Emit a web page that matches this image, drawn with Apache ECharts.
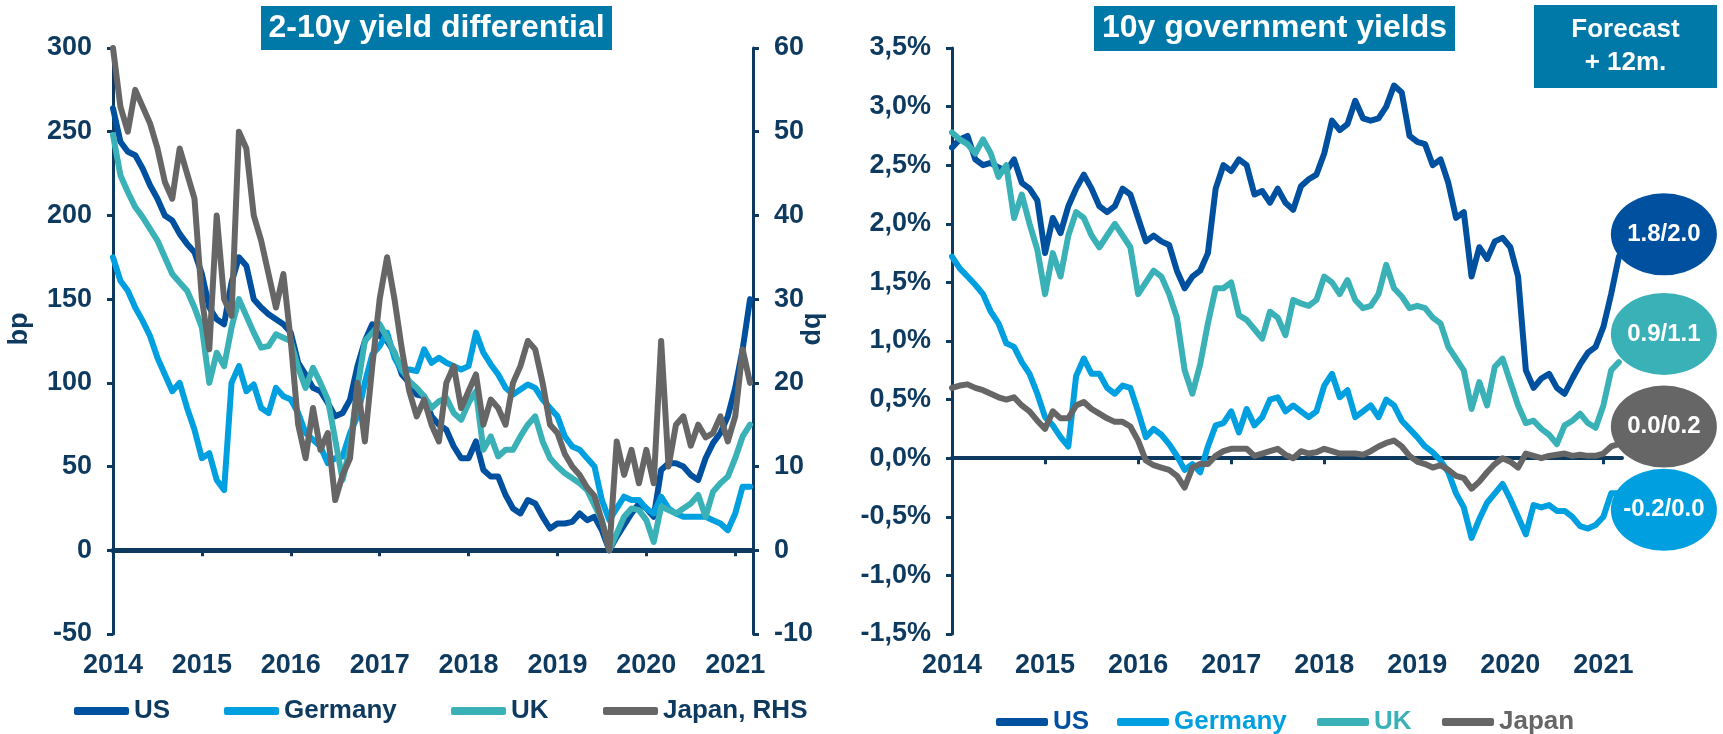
<!DOCTYPE html>
<html>
<head>
<meta charset="utf-8">
<script src="https://cdn.jsdelivr.net/npm/echarts@6/dist/echarts.min.js"></script>
<style>
  html, body { margin: 0; padding: 0; background: #fff; }
  #main { width: 1723px; height: 734px; }
</style>
</head>
<body>
<div id="main"></div>
<script>
// monthly observations, Jan 2014 .. Mar 2021
var startYear = 2014;
var years = [2014, 2015, 2016, 2017, 2018, 2019, 2020, 2021];

// 2-10y spread, bp (Japan on the right axis)
var spreadUS = [
  264, 244, 238, 236, 228, 218, 210, 200, 197, 189, 183, 178,
  165, 145, 138, 135, 160, 175, 170, 150, 145, 141, 138, 135,
  130, 112, 105, 97, 95, 88, 80, 82, 90, 110, 125, 135,
  128, 125, 118, 105, 100, 93, 92, 80, 75, 72, 62, 55,
  55, 65, 48, 44, 44, 33, 25, 22, 30, 28, 20, 13,
  16, 16, 17, 22, 18, 20, 12, 0, 8, 15, 22, 28,
  25, 20, 48, 52, 52, 50, 45, 42, 55, 64, 70, 80,
  97, 120, 150
];
var spreadDE = [
  175, 161, 155, 145, 137, 128, 115, 105, 95, 100, 85, 72,
  55, 58, 42, 36, 100, 110, 95, 99, 85, 82, 97, 92,
  90, 82, 70, 66, 62, 52, 55, 56, 70, 80, 100, 117,
  122, 130, 115, 107, 108, 107, 120, 112, 115, 112, 110, 108,
  110, 130, 118, 111, 105, 97, 93, 96, 99, 97, 90, 85,
  80, 68, 62, 60, 55, 50, 30, 18, 25, 32, 30, 30,
  25, 22, 32, 25, 22, 20, 20, 20, 20, 18, 16, 12,
  22, 38, 38
];
var spreadUK = [
  248, 224, 214, 205, 199, 192, 185, 175, 165, 160, 155, 145,
  133, 100, 118, 110, 133, 150, 140, 130, 121, 122, 129, 127,
  125, 109, 97, 109, 100, 90, 66, 42, 62, 97, 125, 130,
  135, 127, 118, 108, 101, 97, 92, 85, 89, 91, 82, 78,
  88, 95, 60, 68, 56, 60, 60, 68, 75, 80, 65, 55,
  50, 46, 43, 40, 36, 27, 18, 0, 10, 20, 25, 24,
  18, 5, 26, 24, 22, 25, 28, 33, 20, 35, 40, 44,
  55, 68, 75
];
var spreadJP = [
  60, 53, 50, 55, 53, 51, 48, 44, 42, 48, 45, 42,
  30, 24, 40, 30, 28, 50, 48, 40, 37, 33, 29, 33,
  25, 15, 11, 17, 12, 14, 6, 9, 11, 20, 13, 22,
  30, 35, 30, 24, 19, 16, 18, 15, 13, 20, 22, 17,
  19, 21, 15, 18, 17, 15, 20, 22, 25, 24, 20, 15,
  14, 11.5, 10, 9, 7.5, 6.5, 3.5, 0, 13, 9, 12, 8,
  12, 8, 25, 10, 15, 16, 12.5, 15, 13.5, 14, 16, 13,
  16, 24, 20
];

// 10y yields, %
var yieldUS = [
  2.65, 2.72, 2.75, 2.55, 2.50, 2.52, 2.48, 2.45, 2.55, 2.35, 2.30, 2.20,
  1.75, 2.05, 1.92, 2.15, 2.30, 2.42, 2.30, 2.15, 2.10, 2.15, 2.30, 2.25,
  2.05, 1.85, 1.90, 1.85, 1.82, 1.60, 1.45, 1.55, 1.60, 1.75, 2.30, 2.50,
  2.45, 2.55, 2.50, 2.25, 2.28, 2.18, 2.30, 2.18, 2.12, 2.32, 2.38, 2.42,
  2.60, 2.88, 2.80, 2.85, 3.05, 2.90, 2.88, 2.90, 3.00, 3.18, 3.12, 2.75,
  2.70, 2.68, 2.50, 2.55, 2.35, 2.05, 2.10, 1.55, 1.80, 1.70, 1.85, 1.88,
  1.80, 1.55, 0.75, 0.60, 0.68, 0.72, 0.60, 0.55, 0.68, 0.80, 0.90, 0.95,
  1.12, 1.40, 1.72
];
var yieldDE = [
  1.72, 1.62, 1.55, 1.48, 1.40, 1.25, 1.15, 0.98, 0.95, 0.82, 0.72, 0.55,
  0.35, 0.28, 0.18, 0.10, 0.70, 0.85, 0.72, 0.72, 0.60, 0.55, 0.62, 0.60,
  0.40, 0.18, 0.25, 0.20, 0.12, 0.02, -0.10, -0.05, -0.12, 0.10, 0.28, 0.30,
  0.40, 0.22, 0.42, 0.28, 0.35, 0.50, 0.52, 0.40, 0.45, 0.40, 0.35, 0.40,
  0.62, 0.72, 0.52, 0.58, 0.35, 0.40, 0.45, 0.35, 0.50, 0.45, 0.32, 0.25,
  0.18, 0.10, 0.05, -0.02, -0.12, -0.30, -0.42, -0.68, -0.52, -0.38, -0.30, -0.22,
  -0.35, -0.50, -0.65, -0.40, -0.42, -0.40, -0.45, -0.45, -0.50, -0.58, -0.60, -0.57,
  -0.50, -0.30, -0.30
];
var yieldUK = [
  2.78, 2.72, 2.68, 2.60, 2.72, 2.60, 2.40, 2.50, 2.05, 2.25, 2.00, 1.78,
  1.40, 1.75, 1.55, 1.90, 2.10, 2.05, 1.90, 1.80, 1.90, 2.00, 1.90, 1.80,
  1.40, 1.50, 1.60, 1.55, 1.40, 1.20, 0.75, 0.55, 0.80, 1.15, 1.45, 1.45,
  1.50, 1.22, 1.18, 1.10, 1.02, 1.25, 1.20, 1.05, 1.35, 1.32, 1.30, 1.35,
  1.55, 1.50, 1.40, 1.52, 1.35, 1.28, 1.30, 1.40, 1.65, 1.45, 1.38, 1.28,
  1.30, 1.28, 1.20, 1.15, 0.95, 0.85, 0.75, 0.42, 0.65, 0.45, 0.78, 0.85,
  0.65, 0.45, 0.30, 0.32, 0.25, 0.20, 0.12, 0.28, 0.32, 0.38, 0.30, 0.26,
  0.45, 0.75, 0.82
];
var yieldJP = [
  0.60, 0.62, 0.63, 0.60, 0.58, 0.55, 0.52, 0.50, 0.52, 0.45, 0.40, 0.32,
  0.25, 0.40, 0.34, 0.34, 0.45, 0.48, 0.42, 0.38, 0.34, 0.31, 0.31, 0.27,
  0.15, -0.02, -0.06, -0.08, -0.10, -0.15, -0.25, -0.08, -0.05, -0.05, 0.02, 0.06,
  0.08, 0.08, 0.08, 0.02, 0.04, 0.06, 0.08, 0.03, 0.00, 0.06, 0.04, 0.05,
  0.08, 0.06, 0.04, 0.04, 0.04, 0.03, 0.06, 0.10, 0.13, 0.15, 0.10, 0.02,
  -0.03, -0.05, -0.08, -0.06, -0.10, -0.15, -0.17, -0.26, -0.20, -0.12, -0.05, 0.00,
  -0.03, -0.08, 0.04, 0.02, 0.00, 0.02, 0.03, 0.04, 0.02, 0.03, 0.02, 0.02,
  0.04, 0.10, 0.12
];

// 12m forecasts shown in the bubbles
var forecastText = ['1.8/2.0', '0.9/1.1', '0.0/0.2', '-0.2/0.0'];
var forecastColors = ['#0050A0', '#3AB1B7', '#666666', '#00A0E0'];
// where each bubble sits (year, yield)
var bubbleAnchor = [[2021.65, 1.91], [2021.65, 1.06], [2021.65, 0.27], [2021.65, -0.44]];

var NAVY = '#0E3A5F';
var BOX = '#0078A8';
var FONT = '"Liberation Sans", Arial, sans-serif';
var C = { US: '#0050A0', Germany: '#00A0E0', UK: '#3AB1B7', Japan: '#666666' };

function pairs(vals) {
  return vals.map(function (v, i) { return [startYear + i / 12, v]; });
}

function lineSeries(name, vals, xi, yi, color) {
  return {
    name: name, type: 'line', xAxisIndex: xi, yAxisIndex: yi,
    data: pairs(vals), showSymbol: false, symbol: 'none',
    lineStyle: { color: color, width: 6, join: 'round', cap: 'round' },
    itemStyle: { color: color }
  };
}

function xAxes(gi) {
  return [
    { // line at zero with year ticks
      gridIndex: gi, type: 'value', min: 2014, max: 2021.2,
      axisLine: { onZero: true, lineStyle: { color: NAVY, width: gi === 0 ? 5 : 4 } },
      axisTick: { show: true, length: 6, lineStyle: { color: NAVY, width: 3 }, customValues: years },
      axisLabel: { show: false }, splitLine: { show: false }
    },
    { // year labels at the bottom
      gridIndex: gi, type: 'value', min: 2014, max: 2021.2, position: 'bottom',
      axisLine: { show: false, onZero: false }, axisTick: { show: false },
      axisLabel: {
        customValues: years, color: NAVY, fontFamily: FONT, fontWeight: 'bold',
        fontSize: 27, margin: 18, formatter: function (v) { return String(v); }
      },
      splitLine: { show: false }
    }
  ];
}

function yAxis(gi, pos, min, max, step, fmt, name, nameGap, shift) {
  return {
    gridIndex: gi, type: 'value', position: pos, min: min, max: max, interval: step,
    name: name, nameLocation: 'middle', nameGap: nameGap, nameRotate: 90,
    nameTextStyle: {
      color: NAVY, fontFamily: FONT, fontWeight: 'bold', fontSize: 27,
      padding: [0, 0, 0, shift]
    },
    axisLine: { show: true, onZero: false, lineStyle: { color: NAVY, width: 3 } },
    axisTick: { show: true, length: 6, lineStyle: { color: NAVY, width: 3 } },
    axisLabel: { color: NAVY, fontFamily: FONT, fontWeight: 'bold', fontSize: 27, margin: 21, formatter: fmt },
    splitLine: { show: false }
  };
}

function legendItem(name, left, top, width, textColor) {
  return {
    data: [name], left: left, top: top, orient: 'horizontal',
    icon: 'roundRect', itemWidth: width, itemHeight: 8, itemGap: 0,
    textStyle: { color: textColor, fontFamily: FONT, fontWeight: 'bold', fontSize: 26 }
  };
}

function box(x, y, w, h, text, size, lh) {
  return {
    type: 'rect', left: x, top: y, shape: { width: w, height: h },
    style: { fill: BOX },
    textContent: { style: { text: text, fill: '#fff', font: 'bold ' + size + 'px ' + FONT, align: 'center', lineHeight: lh } },
    textConfig: { position: 'inside' }
  };
}

var chart = echarts.init(document.getElementById('main'));

var option = {
  animation: false,
  backgroundColor: '#fff',
  grid: [
    { left: 113, right: 970, top: 48, bottom: 100 },
    { left: 952, right: 101, top: 48, bottom: 100 }
  ],
  xAxis: xAxes(0).concat(xAxes(1)),
  yAxis: [
    yAxis(0, 'left', -50, 300, 50, null, 'bp', 80, 24),
    yAxis(0, 'right', -10, 60, 10, null, '', 0, 0),
    yAxis(1, 'left', -1.5, 3.5, 0.5, function (v) { return v.toFixed(1).replace('.', ',') + '%'; }, 'dq', 126, 24)
  ],
  legend: [
    legendItem('US', 69, 693, 55, NAVY),
    legendItem('Germany', 219, 693, 55, NAVY),
    legendItem('UK', 446, 693, 55, NAVY),
    legendItem('Japan, RHS', 598, 693, 55, NAVY),
    legendItem('US ', 991, 704, 52, C.US),
    legendItem('Germany ', 1112, 704, 52, C.Germany),
    legendItem('UK ', 1312, 704, 52, C.UK),
    legendItem('Japan ', 1437, 704, 52, C.Japan)
  ],
  graphic: [
    box(261, 6, 351, 44, '2-10y yield differential', 32, 40),
    box(1094, 6, 361, 45, '10y government yields', 32, 40),
    box(1534, 5, 183, 83, 'Forecast\n+ 12m.', 26, 33)
  ],
  series: [
    lineSeries('US', spreadUS, 0, 0, C.US),
    lineSeries('Germany', spreadDE, 0, 0, C.Germany),
    lineSeries('UK', spreadUK, 0, 0, C.UK),
    lineSeries('Japan, RHS', spreadJP, 0, 1, C.Japan),
    lineSeries('US ', yieldUS, 2, 2, C.US),
    lineSeries('Germany ', yieldDE, 2, 2, C.Germany),
    lineSeries('UK ', yieldUK, 2, 2, C.UK),
    lineSeries('Japan ', yieldJP, 2, 2, C.Japan),
    {
      name: 'forecast', type: 'scatter', xAxisIndex: 2, yAxisIndex: 2, clip: false,
      symbol: 'circle', symbolSize: [106, 82], silent: true, z: 5,
      data: bubbleAnchor.map(function (p, i) {
        return {
          value: p, itemStyle: { color: forecastColors[i], opacity: 1 },
          label: {
            show: true, position: 'inside', formatter: forecastText[i], color: '#fff',
            fontFamily: FONT, fontWeight: 'bold', fontSize: 24
          }
        };
      })
    }
  ]
};

chart.setOption(option);
</script>
</body>
</html>
